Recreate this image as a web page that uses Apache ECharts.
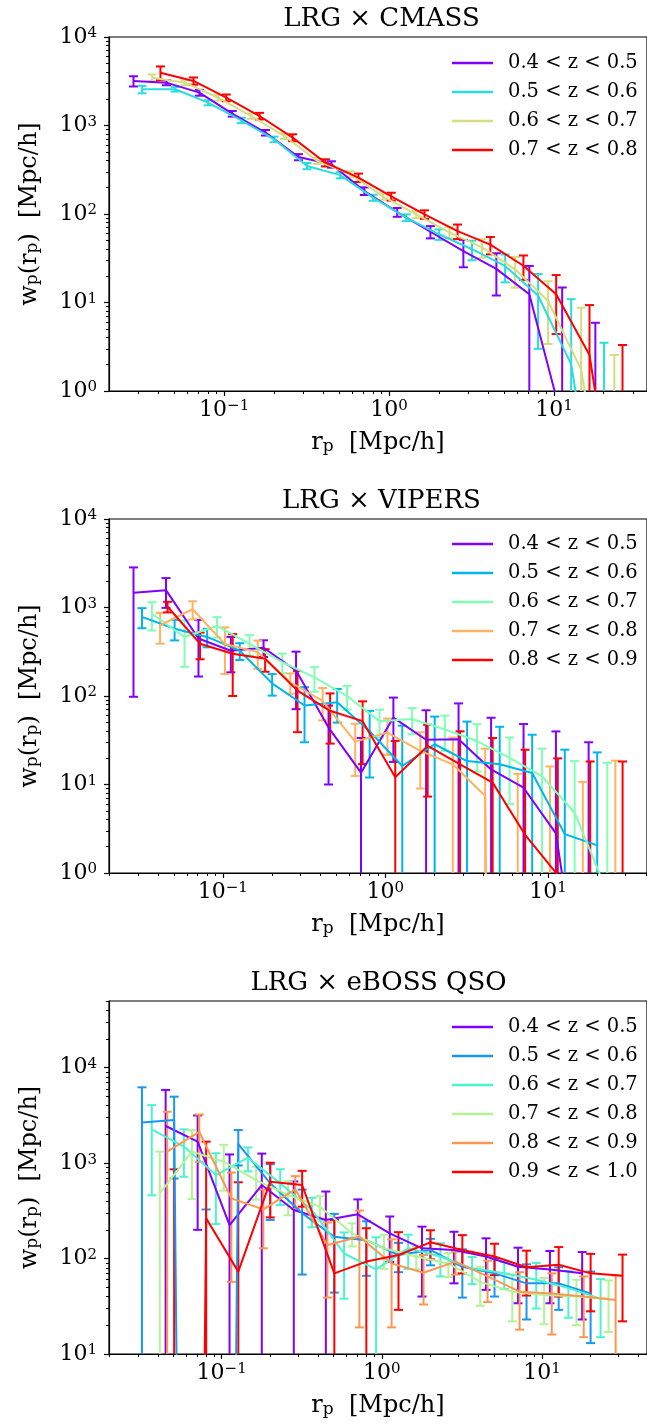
<!DOCTYPE html>
<html lang="en">
<head>
  <meta charset="UTF-8">
  <title>wp(rp) cross-correlations</title>
  <style>
    html,
    body {
      margin: 0;
      padding: 0;
      background: #fff;
    }

    #main {
      width: 647px;
      height: 1428px;
    }
  </style>
</head>
<body>
  <div id="main"></div>
  <script src="https://cdn.jsdelivr.net/npm/echarts@6/dist/echarts.min.js"></script>
  <script>
    // r_p bin centres [Mpc/h] of each redshift slice
    const rpZ45 = [0.0282, 0.0447, 0.0708, 0.112, 0.178, 0.282, 0.447, 0.708, 1.12, 1.78, 2.82, 4.47, 7.08, 11.2, 17.8];
    const rpZ55 = [0.0318, 0.0505, 0.0800, 0.127, 0.201, 0.318, 0.505, 0.800, 1.27, 2.01, 3.18, 5.05, 8.00, 12.7, 20.1];
    const rpZ65 = [0.0366, 0.0581, 0.0920, 0.146, 0.232, 0.366, 0.581, 0.920, 1.46, 2.32, 3.66, 5.81, 9.20, 14.6, 23.2];
    const rpZ75 = [0.0411, 0.0652, 0.103, 0.164, 0.260, 0.411, 0.652, 1.03, 1.64, 2.60, 4.11, 6.52, 10.3, 16.4, 26.0];
    const rpZ85 = [0.0457, 0.0724, 0.115, 0.182, 0.288, 0.457, 0.724, 1.15, 1.82, 2.88, 4.57, 7.24, 11.5, 18.2, 28.8];
    const rpZ95 = [0.0505, 0.0800, 0.127, 0.201, 0.318, 0.505, 0.800, 1.27, 2.01, 3.18, 5.05, 8.00, 12.7, 20.1, 31.8];

    const zLabels = ['0.4 < z < 0.5', '0.5 < z < 0.6', '0.6 < z < 0.7', '0.7 < z < 0.8', '0.8 < z < 0.9', '0.9 < z < 1.0'];

    // LRG x CMASS
    const cmassWp45 = [3180, 3050, 2350, 1360, 830, 440, 364, 182, 105, 63, 38, 24, 12.4, 0.47, 0.3];
    const cmassErr45 = [420, 200, 180, 100, 60, 35, 30, 18, 12, 10, 13, 12, 13.5, 14.3, 5.6];
    const cmassWp55 = [2560, 2570, 1810, 1143, 698, 349, 275, 153, 91, 59, 40, 25.9, 12, 2.0, 0.01];
    const cmassErr55 = [250, 150, 120, 80, 50, 28, 22, 12, 8, 8, 10, 9, 9, 8.9, 3.5];
    const cmassWp65 = [3470, 3050, 2060, 1280, 760, 398, 282, 158, 99, 62, 42, 23.7, 10.4, 1.73, 0.01];
    const cmassErr65 = [300, 200, 150, 90, 55, 30, 22, 13, 9, 9, 10, 9, 7, 7, 2.55];
    const cmassWp75 = [3950, 3190, 2060, 1280, 730, 380, 258, 158, 99, 64, 45, 26, 12.4, 2.55, 0.01];
    const cmassErr75 = [700, 300, 180, 110, 65, 35, 28, 16, 11, 12, 10, 8, 8, 6.8, 3.3];

    // LRG x VIPERS
    const vipersWp45 = [1468, 1570, 446, 325, 351, 194, 44, 13.6, 57, 32, 32.5, 14.8, 9.2, 2.8, 0.01];
    const vipersErr45 = [1370, 580, 280, 140, 75, 123, 34, 20, 39, 37, 50, 42, 39, 37, 30];
    const vipersWp55 = [783, 575, 465, 325, 139, 78, 85, 40, 16.2, 28.5, 18.4, 16.9, 13.5, 2.75, 2.05];
    const vipersErr55 = [200, 150, 110, 70, 38, 48, 35, 28, 30, 30, 33, 28, 23, 22, 21];
    const vipersWp65 = [850, 464, 618, 387, 241, 162, 100, 52, 55, 42, 31, 20, 12.4, 4.8, 0.6];
    const vipersErr65 = [300, 250, 160, 100, 60, 50, 30, 18, 18, 18, 17, 14, 13, 13.6, 17];
    const vipersWp75 = [630, 955, 387, 313, 143, 88, 30.5, 38.6, 24, 16.9, 7.4, -2, -2, -2, -2];
    const vipersErr75 = [240, 220, 210, 110, 37, 35, 18, 17, 15, 17, 18, 15.2, 18, 12.7, 20.6];
    const vipersWp85 = [1020, 390, 300, 263, 115, 68, 52, 12.1, 27.3, 16.9, 10.5, 2.7, 0.95, 0.2, 0.2];
    const vipersErr85 = [140, 130, 200, 75, 76, 39, 35, 19, 20, 23, 23, 22, 18.8, 18, 18];

    // LRG x eBOSS QSO
    const qsoWp45 = [null, 2450, 1680, 224, 589, 323, 254, 291, 184, 128, 123, 105, 82, 77, 70];
    const qsoErr45 = [null, 3400, 1480, 1010, 670, 320, 250, 126, 92, 88, 68, 58, 48, 43, 47];
    const qsoWp55 = [2660, 2830, -300, 1585, 614, 298, 169, 156, 109, 123, 82, 70, 55, 55, 43];
    const qsoErr55 = [3570, 2140, 627, 640, 360, 230, 125, 90, 37, 38, 43, 30, 32, 26, 30];
    const qsoWp65 = [2260, 1490, 750, 1140, 614, 323, 113, 77, 128, 105, 79, 70, 60, 49, 38];
    const qsoErr65 = [1800, 770, 520, 320, 250, 110, 75, 90, 50, 40, 25, 22, 30, 25, 23];
    const qsoWp75 = [482, 1320, 1035, 665, 464, 350, 184, 128, 105, 89, 57, 45, 41.5, 40, 38];
    const qsoErr75 = [840, 900, 520, 250, 180, 100, 50, 50, 28, 25, 25, 23, 21, 20, 21];
    const qsoWp85 = [1318, 2130, 427, 328, 531, 139, 169, 89, 71, 93, 65, 45, 43, 40, 36.7];
    const qsoErr85 = [2140, 1100, 370, 200, 200, 100, 150, 70, 38, 25, 30, 27, 27, 25, 30];
    const qsoWp95 = [-200, 264, 73, 640, 590, 70, 93, 109, 148, 123, 105, 81, 86, 70, 66];
    const qsoErr95 = [1061, 1416, 557, 370, 240, 184, 115, 80, 50, 53, 38, 40, 46, 42, 44];

    const FONT = 'DejaVu Serif';

    const panels = [
      {
        title: 'LRG × CMASS', top: 37, width: 545, height: 354,
        xMin: 0.02004, xMax: 36.6, yMin: 1, yMax: 1e4, legendTop: 53,
        colors: ['#8000ff', '#2adddd', '#d4dd80', '#ff0000'],
        labels: zLabels.slice(0, 4),
        rp: [rpZ45, rpZ55, rpZ65, rpZ75],
        wp: [cmassWp45, cmassWp55, cmassWp65, cmassWp75],
        err: [cmassErr45, cmassErr55, cmassErr65, cmassErr75]
      },
      {
        title: 'LRG × VIPERS', top: 519, width: 545, height: 354,
        xMin: 0.01993, xMax: 40.7, yMin: 1, yMax: 1e4, legendTop: 534,
        colors: ['#8000ff', '#00b5eb', '#80ffb4', '#ffb360', '#ff0000'],
        labels: zLabels.slice(0, 5),
        rp: [rpZ45, rpZ55, rpZ65, rpZ75, rpZ85],
        wp: [vipersWp45, vipersWp55, vipersWp65, vipersWp75, vipersWp85],
        err: [vipersErr45, vipersErr55, vipersErr65, vipersErr75, vipersErr85]
      },
      {
        title: 'LRG × eBOSS QSO', top: 1001, width: 539, height: 353,
        xMin: 0.0198, xMax: 45.2, yMin: 10, yMax: 5e4, legendTop: 1017,
        colors: ['#8000ff', '#1996f3', '#4df3ce', '#b2f396', '#ff964f', '#ff0000'],
        labels: zLabels,
        rp: [rpZ45, rpZ55, rpZ65, rpZ75, rpZ85, rpZ95],
        wp: [qsoWp45, qsoWp55, qsoWp65, qsoWp75, qsoWp85, qsoWp95],
        err: [qsoErr45, qsoErr55, qsoErr65, qsoErr75, qsoErr85, qsoErr95]
      }
    ];

    // decade ticks and 2..9 minor ticks inside [min, max]
    const logTicks = (min, max) => {
      const major = [], minor = [];
      for (let e = Math.floor(Math.log10(min)); e <= Math.ceil(Math.log10(max)); e++) {
        const b = Math.pow(10, e);
        major.push(b);
        for (let m = 2; m < 10; m++) minor.push(+(m * b).toPrecision(6));
      }
      const inside = v => v >= min * 0.9999 && v <= max * 1.0001;
      return { major: major.filter(inside), minor: minor.filter(inside) };
    };

    const powLabel = v => {
      const e = Math.round(Math.log10(v));
      return '{b|10}{s|' + (e < 0 ? '\u2212' + (-e) : e) + '}';
    };

    const tickRich = {
      b: { fontFamily: FONT, fontSize: 22, color: '#000', lineHeight: 22, padding: [6, 0, 0, 0], verticalAlign: 'bottom' },
      s: { fontFamily: FONT, fontSize: 15, color: '#000', lineHeight: 15, verticalAlign: 'top' }
    };
    const nameRich = {
      t: { fontFamily: FONT, fontSize: 24, color: '#000', lineHeight: 24, padding: [0, 0, 7, 0], verticalAlign: 'top' },
      u: { fontFamily: FONT, fontSize: 17, color: '#000', lineHeight: 17, verticalAlign: 'bottom' }
    };

    // vertical error bar with caps; a lower end under the axis runs to the axis edge
    const errorBars = (params, api) => {
      const x = api.value(0), y = api.value(1), s = api.value(2), yMin = api.value(3);
      const cs = params.coordSys;
      const c = api.visual('color');
      const hi = api.coord([x, y + s]);
      const px = hi[0];
      const lo = y - s;
      const yBot = lo > yMin ? api.coord([x, lo])[1] : cs.y + cs.height;
      const st = { stroke: c, lineWidth: 2 };
      const kids = [
        { type: 'line', shape: { x1: px, y1: hi[1], x2: px, y2: yBot }, style: st },
        { type: 'line', shape: { x1: px - 4.5, y1: hi[1], x2: px + 4.5, y2: hi[1] }, style: st }
      ];
      if (lo > yMin) kids.push({ type: 'line', shape: { x1: px - 4.5, y1: yBot, x2: px + 4.5, y2: yBot }, style: st });
      return { type: 'group', children: kids };
    };

    const grid = [], xAxis = [], yAxis = [], series = [], legend = [], graphic = [];

    panels.forEach((p, i) => {
      const xt = logTicks(p.xMin, p.xMax);
      const yt = logTicks(p.yMin, p.yMax);
      grid.push({ left: 109, top: p.top, width: p.width, height: p.height, show: true, borderColor: '#000', borderWidth: 1.2 });

      const line = { show: true, lineStyle: { color: '#000', width: 1.2 } };
      xAxis.push({
        type: 'log', logBase: 10, gridIndex: i, position: 'bottom', min: p.xMin, max: p.xMax,
        axisLine: line, splitLine: { show: false },
        axisTick: { customValues: xt.major, length: 5, lineStyle: { color: '#000', width: 1.2 } },
        axisLabel: { customValues: xt.major, formatter: powLabel, rich: tickRich, margin: 8 },
        name: '{t|r}{u|p}{t|  [Mpc/h]}', nameLocation: 'middle', nameGap: 40,
        nameTextStyle: { rich: nameRich }
      }, {
        type: 'log', logBase: 10, gridIndex: i, position: 'bottom', min: p.xMin, max: p.xMax,
        axisLine: { show: false }, splitLine: { show: false }, axisLabel: { show: false },
        axisTick: { customValues: xt.minor, length: 3, lineStyle: { color: '#000', width: 1 } }
      });
      yAxis.push({
        type: 'log', logBase: 10, gridIndex: i, position: 'left', min: p.yMin, max: p.yMax,
        axisLine: line, splitLine: { show: false },
        axisTick: { customValues: yt.major, length: 5, lineStyle: { color: '#000', width: 1.2 } },
        axisLabel: { customValues: yt.major, formatter: powLabel, rich: tickRich, margin: 12 },
        name: '{t|w}{u|p}{t|(r}{u|p}{t|)  [Mpc/h]}', nameLocation: 'middle', nameGap: 62, nameRotate: 90,
        nameTextStyle: { rich: nameRich }
      }, {
        type: 'log', logBase: 10, gridIndex: i, position: 'left', min: p.yMin, max: p.yMax,
        axisLine: { show: false }, splitLine: { show: false }, axisLabel: { show: false },
        axisTick: { customValues: yt.minor, length: 3, lineStyle: { color: '#000', width: 1 } }
      });

      const names = [];
      p.wp.forEach((w, j) => {
        const name = 'p' + i + '|' + p.labels[j];
        const color = p.colors[j];
        names.push(name);
        const pts = [], bars = [];
        p.rp[j].forEach((x, k) => {
          if (w[k] == null) return;
          // non-positive values drop straight down, as on a clipped log axis
          pts.push([x, w[k] > 0 ? w[k] : 1e-30]);
          bars.push([x, w[k], p.err[j][k], p.yMin]);
        });
        series.push({
          type: 'line', name, xAxisIndex: 2 * i, yAxisIndex: 2 * i,
          data: pts, symbol: 'none', color,
          lineStyle: { width: 2, color }, z: 2
        });
        series.push({
          type: 'custom', name, xAxisIndex: 2 * i, yAxisIndex: 2 * i,
          data: bars, renderItem: errorBars, color, clip: true,
          encode: { x: 0, y: 1 }, z: 2
        });
      });

      legend.push({
        data: names, orient: 'vertical', left: 452, top: p.legendTop, padding: 0,
        icon: 'rect', itemWidth: 41, itemHeight: 2.5, itemGap: 9, selectedMode: false,
        formatter: n => n.split('|')[1],
        textStyle: { fontFamily: FONT, fontSize: 19.5, color: '#000', padding: [0, 0, 0, 10] }
      });

      graphic.push({
        type: 'text', x: 109 + p.width / 2, y: p.top - 18,
        style: {
          text: p.title, font: '26px "DejaVu Serif"', fill: '#000',
          align: 'center', verticalAlign: 'middle', textAlign: 'center', textVerticalAlign: 'middle'
        }
      });
    });

    const myChart = echarts.init(document.getElementById('main'));
    myChart.setOption({
      animation: false,
      backgroundColor: '#fff',
      grid, xAxis, yAxis, series, legend, graphic
    });
  </script>
</body>
</html>
